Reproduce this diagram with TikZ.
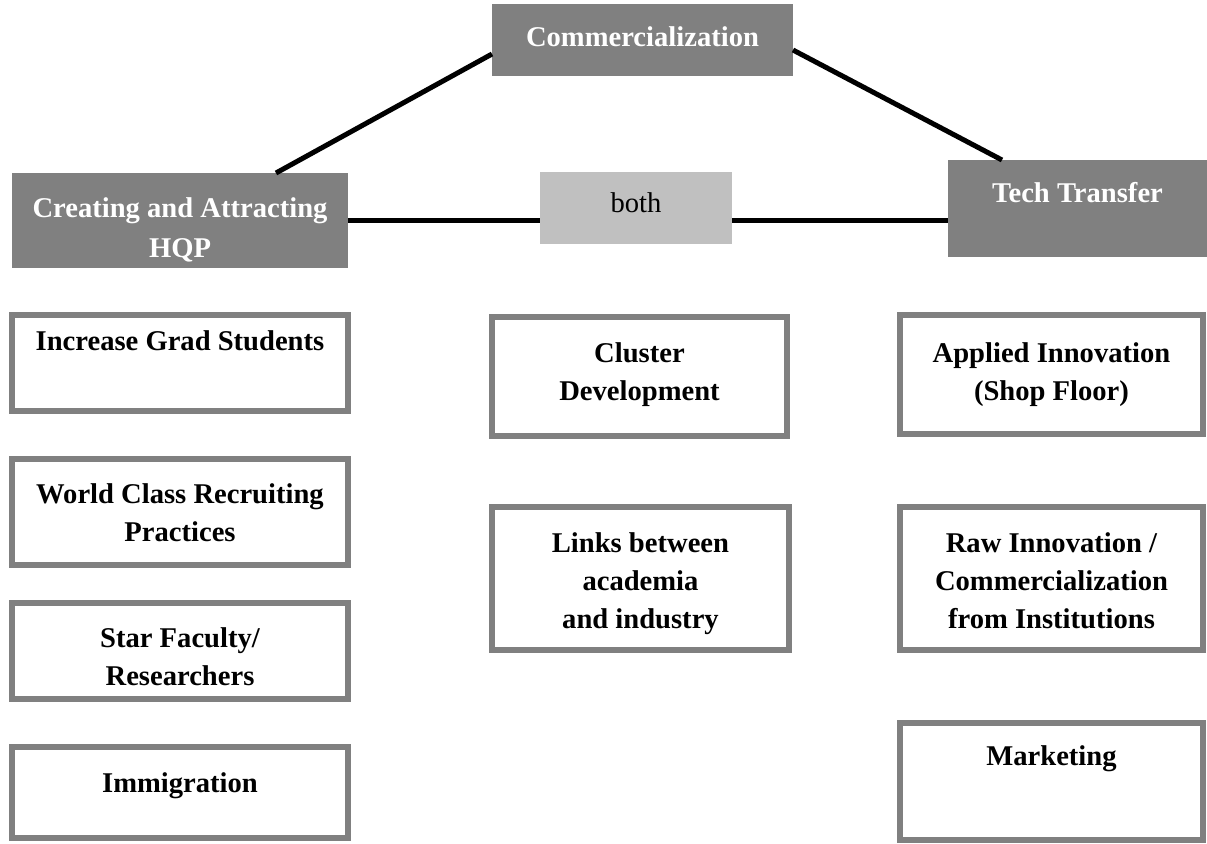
\documentclass[tikz,border=0pt]{standalone}
\usepackage{fontspec}
\setmainfont{Liberation Serif}
\definecolor{dgray}{HTML}{808080}
\definecolor{lgray}{HTML}{C0C0C0}
\newcommand\boxtxt[4]{\parbox[c][#2][t]{#1}{\centering\vspace*{#3}\strut#4\par}}
\begin{document}
\begin{tikzpicture}[x=0.5pt,y=-0.5pt,
  every node/.style={inner sep=0pt,outer sep=0pt,font=\fontsize{14.3}{19}\selectfont\bfseries},
  head/.style={fill=dgray,text=white},
  mid/.style={fill=lgray,text=black,font=\fontsize{14.3}{19}\selectfont},
  item/.style={draw=dgray,line width=3pt,fill=white},
  conn/.style={line width=2.5pt,black}]
\useasboundingbox (0,0) rectangle (1207,843);
% headers
\node[head] (com) at (642.5,40) {\boxtxt{150.5pt}{36pt}{7.7pt}{Commercialization}};
\node[head] (cre) at (180,220.5) {\boxtxt{168pt}{47.5pt}{8.7pt}{Creating and Attracting\\[1pt]HQP}};
\node[mid] (both) at (636,208) {\boxtxt{96pt}{36pt}{6.7pt}{both}};
\node[head] (tt) at (1077.5,208.5) {\boxtxt{129.5pt}{48.5pt}{7.7pt}{Tech Transfer}};
% connectors
\draw[conn] ([xshift=48pt]cre.north) -- ([yshift=-7pt]com.west);
\draw[conn] ([yshift=-5pt]com.east) -- ([xshift=-37.75pt]tt.north);
\draw[conn] (cre.east) -- (cre.east -| both.west);
\draw[conn] (cre.east -| both.east) -- (cre.east -| tt.west);
% left column
\node[item] (inc) at (180,363) {\boxtxt{168pt}{48pt}{4.2pt}{Increase Grad Students}};
\node[item] (wcr) at (180,512) {\boxtxt{168pt}{53pt}{8.7pt}{World Class Recruiting\\Practices}};
\node[item] (star) at (180,651) {\boxtxt{168pt}{48pt}{8.7pt}{Star Faculty/\\Researchers}};
\node[item] (imm) at (180,792.5) {\boxtxt{168pt}{45.5pt}{9.2pt}{Immigration}};
% middle column
\node[item] (clu) at (639.5,376.5) {\boxtxt{147.5pt}{59.5pt}{9.2pt}{Cluster\\Development}};
\node[item] (lnk) at (640.5,578.5) {\boxtxt{148.5pt}{71.5pt}{9.2pt}{Links between\\academia\\and industry}};
% right column
\node[item] (app) at (1051.5,374.5) {\boxtxt{151.5pt}{59.5pt}{10.2pt}{Applied Innovation\\(Shop Floor)}};
\node[item] (raw) at (1051.5,578.5) {\boxtxt{151.5pt}{71.5pt}{9.2pt}{Raw Innovation /\\Commercialization\\from Institutions}};
\node[item] (mkt) at (1051.5,781.5) {\boxtxt{151.5pt}{58.5pt}{7.7pt}{Marketing}};
\end{tikzpicture}
\end{document}
